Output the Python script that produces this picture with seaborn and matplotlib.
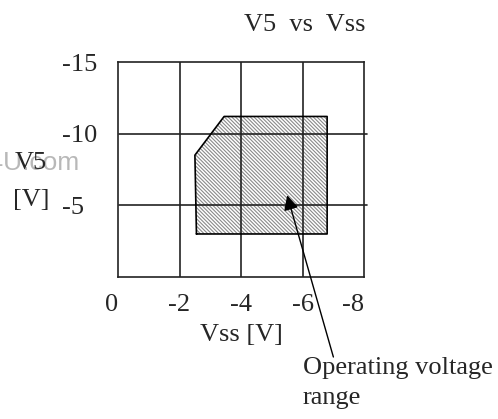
import seaborn as sns
import pandas as pd
import matplotlib.pyplot as plt

# Operating region outline (Vss, V5)
vss_edge = [-2.55, -2.5, -3.45, -6.8, -6.8, -2.55]
v5_edge = [-3.0, -8.5, -11.2, -11.2, -3.0, -3.0]

x_ticks = [0, -2, -4, -6, -8]
x_labels = ['0', '-2', '-4', '-6', '-8']
y_ticks = [-15, -10, -5]
y_labels = ['-15', '-10', '-5']

df = pd.DataFrame({'Vss': vss_edge, 'V5': v5_edge, 'order': range(len(vss_edge))})

sns.set_style('white')
plt.rcParams['font.family'] = ['Liberation Serif', 'DejaVu Serif']
plt.rcParams['hatch.linewidth'] = 0.8

fig = plt.figure(figsize=(4.98, 4.19), dpi=100)
ax = fig.add_axes([0.237, 0.339, 0.494, 0.513])

# watermark, partly cut off at the left edge
fig.text(79 / 498, 1 - 163 / 419, 'www.DataSheet4U.com', ha='right', va='center',
         fontsize=19, color='#b8b8b8', family='Liberation Sans', zorder=0)

# hatched region
ax.fill(df['Vss'], df['V5'], facecolor='white', edgecolor='#8a8a8a',
        hatch='\\' * 9, linewidth=0, zorder=1)
sns.lineplot(data=df, x='Vss', y='V5', sort=False, estimator=None, units='order',
             color='black', linewidth=1.2, ax=ax, zorder=3)
ax.plot(df['Vss'], df['V5'], color='black', linewidth=1.2, zorder=3)

# grid
for gx in [-2, -4, -6]:
    ax.axvline(gx, color='#222222', linewidth=1.2, zorder=2)
for gy in [-10, -5]:
    ax.axhline(gy, color='#222222', linewidth=1.2, zorder=2, xmin=0.005, xmax=1.012, clip_on=False)

ax.set_xlim(0, -8)
ax.set_ylim(0, -15)
for s in ax.spines.values():
    s.set_color('#222222')
    s.set_linewidth(1.2)

ax.set_xticks(x_ticks)
ax.set_xticklabels(x_labels, fontsize=19)
ax.set_yticks(y_ticks)
ax.set_yticklabels(y_labels, fontsize=19, ha='left')
ax.tick_params(axis='x', length=0, pad=12)
ax.tick_params(axis='y', length=0, pad=40)
xl = ax.get_xticklabels()
xl[0].set_ha('right')
xl[-1].set_ha('right')
ax.set_xlabel('Vss [V]', fontsize=19, labelpad=6)
ax.set_ylabel('')

fig.text(305 / 498, 1 - 25 / 419, 'V5  vs  Vss', ha='center', va='center', fontsize=19)
fig.text(31 / 498, 1 - 163 / 419, 'V5', ha='center', va='center', fontsize=19, zorder=5)
fig.text(31 / 498, 1 - 200 / 419, '[V]', ha='center', va='center', fontsize=19, zorder=5)

ax.annotate('Operating voltage\nrange', xy=(-5.5, -5.7), xycoords='data',
            xytext=(303, 419 - 357), textcoords='figure pixels',
            ha='left', va='top', fontsize=19, linespacing=1.45,
            arrowprops=dict(arrowstyle='-|>', color='black', lw=1.0,
                            shrinkA=0, shrinkB=0, mutation_scale=22,
                            patchA=None, relpos=(0.16, 1.0)),
            annotation_clip=False)

plt.savefig('out.png', dpi=100)
